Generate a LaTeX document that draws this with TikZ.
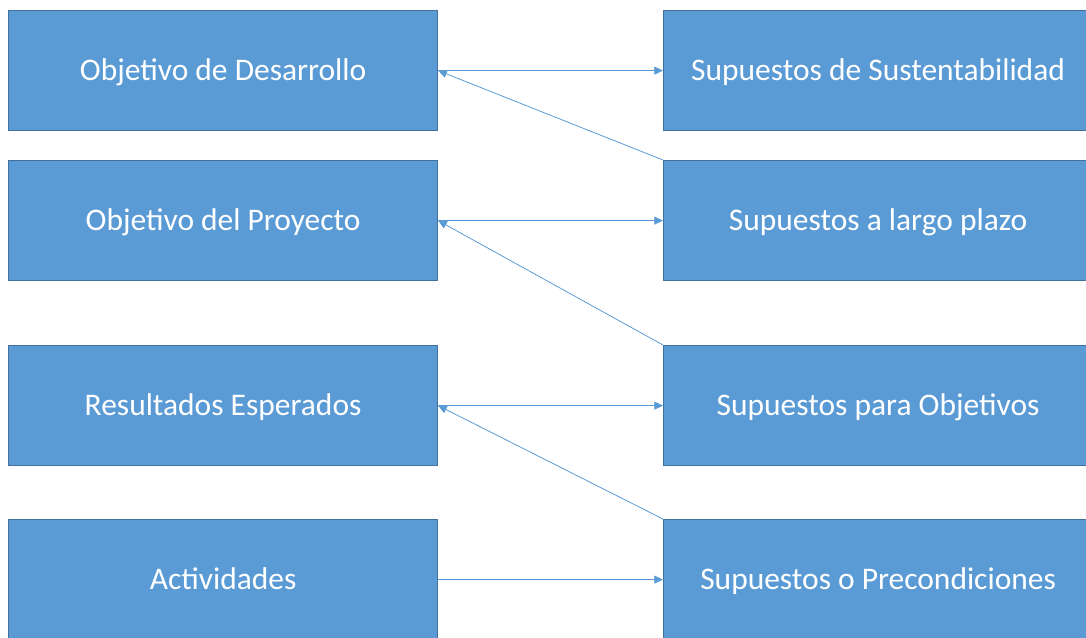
\documentclass[tikz,border=0pt]{standalone}
\usepackage{fontspec}
\setmainfont{Carlito}
\usetikzlibrary{arrows.meta}
\definecolor{boxfill}{HTML}{5B9BD5}
\definecolor{boxline}{HTML}{41719C}
\definecolor{arrowc}{HTML}{5B9BD5}
\tikzset{
  box/.style={draw=boxline, line width=0.9pt, fill=boxfill, text=white,
    minimum width=321.75pt, minimum height=90pt, inner sep=0pt,
    text height=16pt, text depth=1pt,
    anchor=north west, font=\fontsize{23.6}{28}\selectfont},
  rbox/.style={box, minimum width=351.75pt},
  conn/.style={draw=arrowc, line width=0.6pt,
    -{Triangle[length=6.5pt,width=6pt]}}
}
\newcommand{\rtext}[1]{\hspace*{-30pt}#1}
\begin{document}
\begin{tikzpicture}[x=0.75pt,y=-0.75pt]
\useasboundingbox (0,0) rectangle (1086,637);
\node[box] (l1) at (8,10) {Objetivo de Desarrollo};
\node[box] (l2) at (8,160) {Objetivo del Proyecto};
\node[box] (l3) at (8,345) {Resultados Esperados};
\node[box] (l4) at (8,519) {Actividades};
\node[rbox] (r1) at (663,10) {\rtext{Supuestos de Sustentabilidad}};
\node[rbox] (r2) at (663,160) {\rtext{Supuestos a largo plazo}};
\node[rbox] (r3) at (663,345) {\rtext{Supuestos para Objetivos}};
\node[rbox] (r4) at (663,519) {\rtext{Supuestos o Precondiciones}};
\draw[conn] (l1.east) -- (r1.west);
\draw[conn] (l2.east) -- (r2.west);
\draw[conn] (l3.east) -- (r3.west);
\draw[conn] (l4.east) -- (r4.west);
\draw[conn] (r2.north west) -- (l1.east);
\draw[conn] (r3.north west) -- (l2.east);
\draw[conn] (r4.north west) -- (l3.east);
\end{tikzpicture}
\end{document}
